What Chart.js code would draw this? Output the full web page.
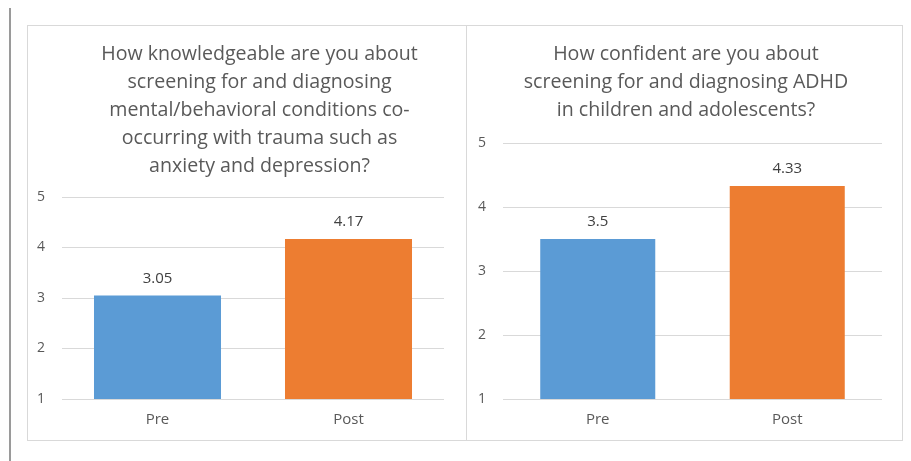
<!DOCTYPE html>
<html>
<head>
<meta charset="utf-8">
<script src="https://cdn.jsdelivr.net/npm/chart.js@4"></script>
<style>
  html, body { margin: 0; padding: 0; background: #fff; }
  body { width: 911px; height: 461px; position: relative; overflow: hidden; }
  .edge { position: absolute; left: 9px; top: 8px; width: 2px; height: 453px; background: #9a9a9a; }
  .panel { position: absolute; box-sizing: border-box; border: 1px solid #d9d9d9; }
  canvas { position: absolute; }
</style>
</head>
<body>
<div class="edge"></div>
<div class="panel" style="left:27px;top:25px;width:440px;height:416px"></div>
<div class="panel" style="left:466px;top:25px;width:437px;height:416px"></div>
<canvas id="knowChart" width="455" height="416" style="left:27px;top:25px"></canvas>
<canvas id="confChart" width="436" height="416" style="left:467px;top:25px"></canvas>

<script>
/* --- data ---------------------------------------------------------- */
const categories       = ['Pre', 'Post'];
const knowledgeValues  = [3.05, 4.17];
const confidenceValues = [3.5, 4.33];
const barColors        = ['#5B9BD5', '#ED7D31'];
const yMin = 1, yMax = 5, yStep = 1;

const knowledgeTitle = [
  'How knowledgeable are you about',
  'screening for and diagnosing',
  'mental/behavioral conditions co-',
  'occurring with trauma such as',
  'anxiety and depression?'
];
const confidenceTitle = [
  'How confident are you about',
  'screening for and diagnosing ADHD',
  'in children and adolescents?'
];

/* --- helpers ------------------------------------------------------- */
const FONT = '"Open Sans", "Noto Sans", sans-serif';
const GREY = '#595959';

// value label above each bar
const barLabels = {
  id: 'barLabels',
  afterDatasetsDraw(chart) {
    const ctx = chart.ctx;
    const meta = chart.getDatasetMeta(0);
    ctx.save();
    ctx.font = '15px ' + FONT;
    ctx.fillStyle = '#404040';
    ctx.textAlign = 'center';
    ctx.textBaseline = 'middle';
    meta.data.forEach((bar, i) => {
      ctx.fillText(String(chart.data.datasets[0].data[i]), bar.x, bar.y - 17);
    });
    ctx.restore();
  }
};

function makeChart(id, values, title, opts) {
  return new Chart(document.getElementById(id), {
    type: 'bar',
    data: {
      labels: categories,
      datasets: [{
        data: values,
        backgroundColor: barColors,
        borderWidth: 0,
        barPercentage: opts.barPct,
        categoryPercentage: 1
      }]
    },
    options: {
      responsive: false,
      animation: false,
      devicePixelRatio: 1,
      layout: { padding: { left: 10, right: opts.padRight, bottom: 0, top: 0 } },
      plugins: {
        legend: { display: false },
        tooltip: { enabled: false },
        title: {
          display: true,
          text: title,
          color: GREY,
          font: { family: FONT, size: 19.6, weight: 'normal', lineHeight: 28 / 19.6 },
          padding: { top: 15, bottom: opts.titleGap }
        }
      },
      scales: {
        x: {
          grid: { display: false, drawTicks: false },
          border: { display: false },
          ticks: { color: GREY, font: { family: FONT, size: 15 }, padding: 12 }
        },
        y: {
          min: yMin, max: yMax,
          afterFit: s => { s.width = opts.axisWidth; },
          grid: { color: '#d9d9d9', drawTicks: false, lineWidth: 1 },
          border: { display: false },
          ticks: { stepSize: yStep, color: GREY, font: { family: FONT, size: 14 }, padding: 17 }
        },
        // empty right-hand spacer so the title sits where Excel put it
        spacer: {
          type: 'linear', position: 'right',
          afterFit: s => { s.width = opts.spacer; },
          grid: { display: false, drawTicks: false },
          border: { display: false },
          ticks: { display: false }
        }
      }
    },
    plugins: [barLabels]
  });
}

makeChart('knowChart', knowledgeValues, knowledgeTitle,
  { barPct: 0.665, axisWidth: 25, spacer: 38, padRight: 0, titleGap: 17 });
makeChart('confChart', confidenceValues, confidenceTitle,
  { barPct: 0.607, axisWidth: 26, spacer: 13, padRight: 8, titleGap: 19 });
</script>
</body>
</html>
